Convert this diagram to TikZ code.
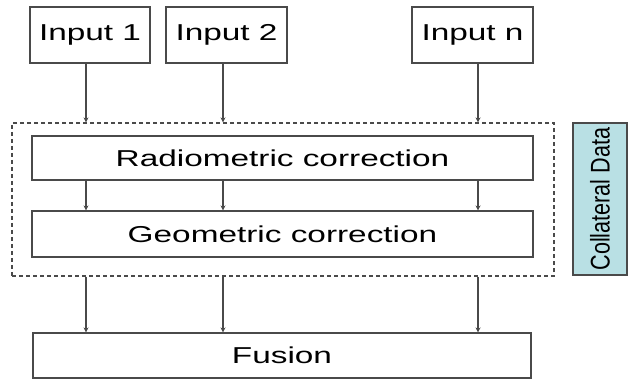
\documentclass[tikz,border=0pt]{standalone}
\usepackage{fontspec}
\setmainfont{Liberation Sans}
\usetikzlibrary{arrows.meta}
\definecolor{edge}{HTML}{4A4A4A}
\definecolor{teal}{HTML}{B9E0E4}
\tikzset{
  box/.style={draw=edge, line width=1.1pt, fill=white, inner sep=0pt, anchor=center},
  lbl/.style={font=\fontsize{23}{25}\selectfont},
  arr/.style={draw=edge, line width=1.3pt, -{Stealth[length=5pt,width=5pt]}},
  dashbox/.style={draw=edge, line width=1.1pt, dash pattern=on 4pt off 3pt, inner sep=0pt}
}
\newcommand{\wide}[1]{\scalebox{1.45}[1]{#1}}
\begin{document}
\begin{tikzpicture}[x=1pt,y=1pt]
\useasboundingbox[fill=white] (0,0) rectangle (628,380);
% column coordinates
\coordinate (c1) at (86,0);
\coordinate (c2) at (223,0);
\coordinate (c3) at (478,0);
% inputs
\node[box, lbl, minimum width=120pt, minimum height=56pt] (in1) at (90,345) {\wide{Input 1}};
\node[box, lbl, minimum width=121pt, minimum height=56pt] (in2) at (226.5,345) {\wide{Input 2}};
\node[box, lbl, minimum width=121pt, minimum height=56pt] (inn) at (472.5,345) {\wide{Input n}};
% dashed group
\node[dashbox, minimum width=542pt, minimum height=153pt] (grp) at (283,180.5) {};
\node[box, lbl, minimum width=501pt, minimum height=44pt] (rad) at (282.5,222) {\wide{Radiometric correction}};
\node[box, lbl, minimum width=501pt, minimum height=46pt] (geo) at (282.5,146) {\wide{Geometric correction}};
% collateral data
\node[box, fill=teal, minimum width=54pt, minimum height=152pt] (col) at (600,181) {};
\node[font=\fontsize{27}{29}\selectfont, rotate=90, inner sep=0pt] (coltxt) at (col.center) {\scalebox{0.8}[1]{Collateral Data}};
% fusion
\node[box, lbl, minimum width=498pt, minimum height=45pt] (fus) at (282,24.5) {\wide{Fusion}};
% arrows
\draw[arr] (in1.south -| c1) -- (grp.north -| c1);
\draw[arr] (in2.south -| c2) -- (grp.north -| c2);
\draw[arr] (inn.south -| c3) -- (grp.north -| c3);
\draw[arr] (rad.south -| c1) -- (geo.north -| c1);
\draw[arr] (rad.south -| c2) -- (geo.north -| c2);
\draw[arr] (rad.south -| c3) -- (geo.north -| c3);
\draw[arr] (grp.south -| c1) -- (fus.north -| c1);
\draw[arr] (grp.south -| c2) -- (fus.north -| c2);
\draw[arr] (grp.south -| c3) -- (fus.north -| c3);
\end{tikzpicture}
\end{document}
